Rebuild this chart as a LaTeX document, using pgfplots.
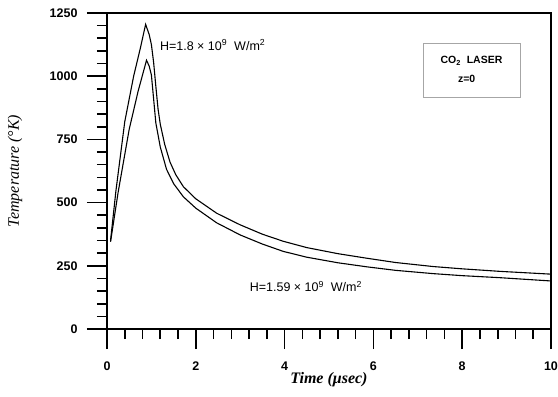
\documentclass[border=0pt]{standalone}
\usepackage{pgfplots}
\pgfplotsset{compat=1.18}
\usepackage{fontspec}
\setmainfont{Liberation Serif}
\setsansfont{Liberation Sans}
\newfontfamily\arial{Liberation Sans}
\begin{document}
\begin{tikzpicture}
\useasboundingbox (-107pt,-68pt) rectangle (451pt,329pt);
\begin{axis}[
  at={(0,0)}, anchor=south west,
  scale only axis, width=444pt, height=316pt,
  xmin=0, xmax=10, ymin=0, ymax=1250,
  xtick={0,2,...,10}, ytick={0,250,...,1250},
  minor x tick num=4, minor y tick num=4,
  tick align=outside, xtick pos=bottom, ytick pos=left,
  major tick length=20pt, minor tick length=10pt,
  tick style={black, line width=1.6pt},
  axis line style={line width=1.4pt},
  /pgf/number format/assume math mode=true,
  /pgf/number format/1000 sep={},
  scaled ticks=false,
  ticklabel style={font=\arial\bfseries\fontsize{12.5}{13}\selectfont},
  yticklabel style={xshift=-6pt},
  xticklabel style={yshift=-9pt},
  xlabel={Time (μsec)},
  ylabel={Temperature (°K)},
  xlabel style={font=\fontsize{16}{18}\selectfont\bfseries\itshape, at={(axis description cs:0.5,-0.161)}, anchor=center},
  ylabel style={font=\fontsize{16}{18}\selectfont\itshape, at={(axis description cs:-0.207,0.5)}, anchor=center},
]
\addplot[black, line width=1.1pt] coordinates {
(0.08,350) (0.2,545) (0.4,820) (0.6,1000) (0.75,1110) (0.87,1205) (0.95,1165) (1.0,1125) (1.05,1055) (1.1,960) (1.15,870) (1.2,810) (1.3,730) (1.42,660) (1.55,610) (1.72,563) (2.0,515) (2.47,458) (3.0,412) (3.5,375) (3.97,347) (4.5,322) (5.2,298) (5.85,280) (6.5,263) (7.35,247) (8.0,238) (8.85,228) (10,217)
};
\addplot[black, line width=1.1pt] coordinates {
(0.08,345) (0.25,540) (0.5,790) (0.7,940) (0.89,1063) (0.95,1040) (1.0,1005) (1.05,910) (1.1,815) (1.2,720) (1.34,632) (1.5,575) (1.72,523) (2.0,478) (2.47,420) (3.0,372) (3.5,336) (3.97,307) (4.5,284) (5.2,262) (5.85,246) (6.5,232) (7.35,219) (8.0,211) (8.85,203) (10,190)
};
\node[font=\arial\fontsize{12.5}{14}\selectfont] at (axis cs:2.38,1123) {H=1.8 × 10\textsuperscript{9}\ \ W/m\textsuperscript{2}};
\node[font=\arial\fontsize{12.5}{14}\selectfont] at (axis cs:4.48,167) {H=1.59 × 10\textsuperscript{9}\ \ W/m\textsuperscript{2}};
\draw[gray!70, line width=0.6pt] (axis cs:7.12,918) rectangle (axis cs:9.31,1131);
\node[font=\arial\bfseries\fontsize{10.5}{12}\selectfont] at (axis cs:8.21,1060) {CO\textsubscript{2}\ \ LASER};
\node[font=\arial\bfseries\fontsize{10.5}{12}\selectfont] at (axis cs:8.10,990) {z=0};
\end{axis}
\end{tikzpicture}
\end{document}
